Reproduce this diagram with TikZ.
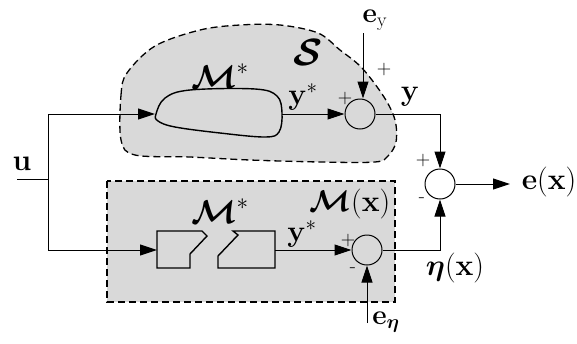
\RequirePackage{fix-cm}
\documentclass[tikz,border=0pt]{standalone}
\usepackage{amsmath,bm}
\usetikzlibrary{arrows.meta}
\begin{document}
\begin{tikzpicture}[x=1pt,y=-1pt,
 conn/.style={line width=1pt,-{Triangle[length=17pt,width=11pt]}},
 wire/.style={line width=1pt},
 sumnode/.style={circle,draw,line width=1pt,minimum size=30pt,inner sep=0pt},
 region/.style={draw,line width=1.3pt,dash pattern=on 7pt off 4pt,fill=black!15},
 blk/.style={draw,line width=1.4pt},
 lbl/.style={font=\fontsize{30}{34}\selectfont,inner sep=0pt},
 mlbl/.style={font=\fontsize{33}{37}\selectfont,inner sep=0pt},
 slbl/.style={font=\fontsize{28}{32}\selectfont,inner sep=0pt},
 sgn/.style={font=\fontsize{20}{22}\selectfont,inner sep=0pt}]
\useasboundingbox (0,0) rectangle (577,343);
% regions
\path[region] plot[smooth cycle,tension=0.55] coordinates {(121,140) (121,95) (127,73) (155,46) (200,30) (240,25) (280,25) (318,33) (340,50) (362,68) (384,97) (395,120) (396,142) (388,156) (375,162) (320,162) (250,160) (190,157) (135,155)};
\path[region] (107,181) rectangle (395,302);
% top model blob
\draw[blk] plot[smooth cycle,tension=0.6] coordinates {(156,114) (165,98) (190,90) (255,89) (277,96) (282,113) (279,132) (265,137) (220,133) (175,127) (158,121)};
\coordinate (mL) at (155,114);
\coordinate (mR) at (282,114);
% lower broken model
\draw[blk] (157,231) -- (202,231) -- (207,236) -- (190,254) -- (190,268) -- (157,268) -- cycle;
\draw[blk] (233,231) -- (275,231) -- (275,268) -- (218,268) -- (218,256) -- (238,235) -- cycle;
\coordinate (bL) at (157,250);
\coordinate (bR) at (275,250);
% summing junctions
\node[sumnode] (s1) at (360,114) {};
\node[sumnode] (s2) at (440,184) {};
\node[sumnode] (s3) at (367,250) {};
% input branching
\coordinate (uin) at (17,179);
\coordinate (br) at (48,179);
\coordinate (bt) at (48,114);
\coordinate (bb) at (48,250);
\node[lbl] (u) at (22,164) {$\mathbf{u}$};
\draw[wire] (uin) -- (br);
\draw[wire] (bt) -- (bb);
\draw[conn] (bt) -- (mL);
\draw[conn] (bb) -- (bL);
\draw[conn] (mR) -- (s1.west);
\draw[conn] (bR) -- (s3.west);
% disturbances
\coordinate (eyt) at (363,33);
\coordinate (eet) at (367,323);
\draw[conn] (eyt) -- (eyt |- s1.north);
\draw[conn] (eet) -- (s3.south);
\node[slbl] (ey) at (375,20) {$\mathbf{e}_{\mathrm{y}}$};
\node[slbl] (ee) at (386,322) {$\mathbf{e}_{\bm{\eta}}$};
% outputs
\draw[conn] (s1.east) -- (s1.east -| s2) -- (s2.north);
\draw[conn] (s3.east) -- (s3.east -| s2) -- (s2.south);
\coordinate (eout) at (510,184);
\draw[conn] (s2.east) -- (eout);
% labels
\node[mlbl] (Mt) at (220,76) {$\bm{\mathcal{M}}^{*}$};
\node[lbl] (yst) at (303,97) {$\mathbf{y}^{*}$};
\node[font=\fontsize{38}{42}\selectfont,inner sep=0pt] (S) at (308,52) {$\bm{\mathcal{S}}$};
\node[lbl] (y) at (410,97) {$\mathbf{y}$};
\node[mlbl] (Mb) at (220,211) {$\bm{\mathcal{M}}^{*}$};
\node[lbl] (Mx) at (350,204) {$\bm{\mathcal{M}}(\mathbf{x})$};
\node[lbl] (ysb) at (302,234) {$\mathbf{y}^{*}$};
\node[lbl] (ex) at (549,182) {$\mathbf{e}(\mathbf{x})$};
\node[lbl] (eta) at (455,268) {$\bm{\eta}(\mathbf{x})$};
% signs
\node[sgn] at (345,98) {$+$};
\node[sgn] at (384,69) {$+$};
\node[sgn] at (423,160) {$+$};
\node[sgn] at (422,200) {-};
\node[sgn] at (348,240) {$+$};
\node[sgn] at (353,270) {-};
\end{tikzpicture}
\end{document}
